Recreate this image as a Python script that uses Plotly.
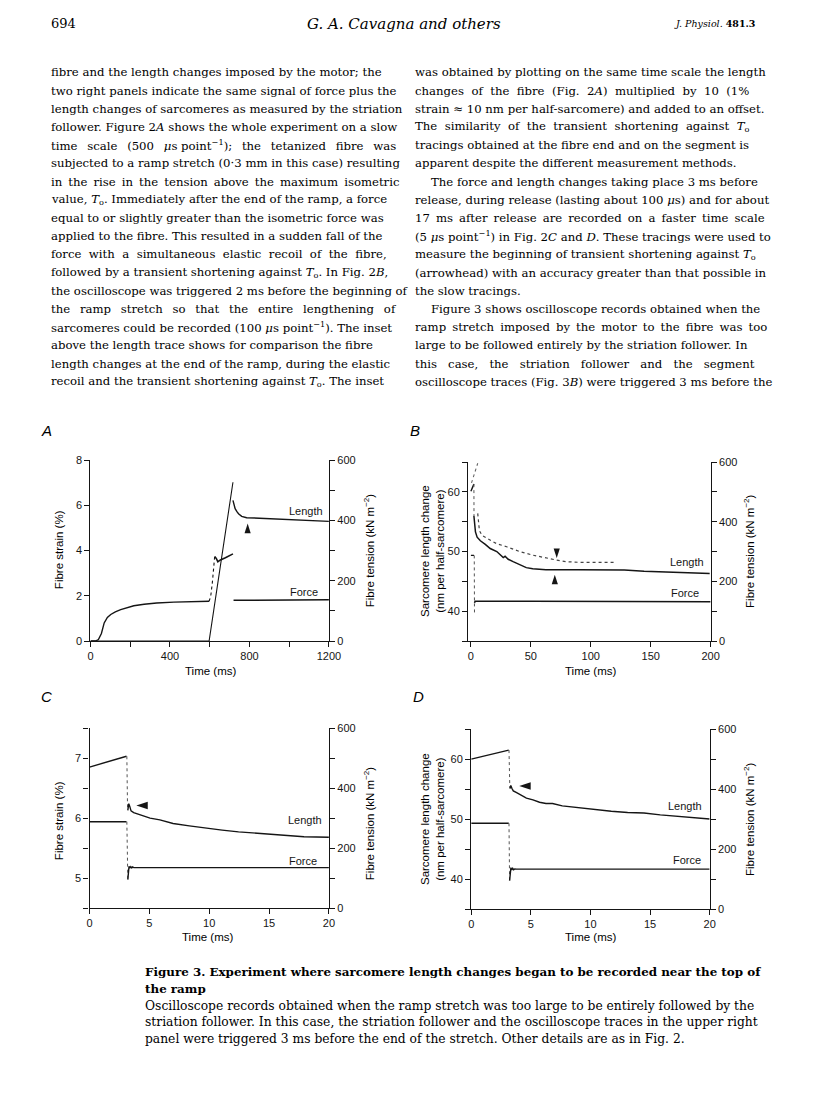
import plotly.graph_objects as go

# The page body keeps the browser's default 8 px margin, so the figure is
# sized to fill the 816x1110 window exactly and all positions are offset.
WIN_W, WIN_H, OFF = 816, 1110, 8
FIG_W, FIG_H = WIN_W - 2 * OFF, WIN_H - 2 * OFF

# ---------------- DATA ----------------
# Panel A: time (ms); length = fibre strain (%); force = fibre tension (kN m^-2)
A_len_pre_t = [0, 597, 717]
A_len_pre_y = [0.0, 0.0, 7.02]
A_len_post_t = [717, 722, 728, 737, 745, 761, 786, 850, 910, 1000, 1075, 1200]
A_len_post_y = [6.22, 6.0, 5.85, 5.72, 5.63, 5.51, 5.45, 5.43, 5.41, 5.38, 5.34, 5.29]
A_force_pre_t = [0, 25, 40, 55, 69, 85, 102, 125, 152, 185, 218, 270, 333, 420, 498, 597]
A_force_pre_k = [0, 0, 5, 25, 60, 78, 88, 97, 104, 111, 117, 122, 126, 129, 130, 132]
A_force_ramp_dot_t = [597, 605, 613, 620, 625]
A_force_ramp_dot_k = [132, 148, 192, 236, 280]
A_force_ramp_t = [625, 633, 641, 654, 679, 717]
A_force_ramp_k = [280, 274, 263, 269, 276, 289]
A_force_post_t = [720, 800, 1000, 1200]
A_force_post_k = [135, 135, 136, 137]

# Panel B: time (ms); length = sarcomere length change (nm per half-sarcomere)
B_len_pre_t = [0.0, 2.5]
B_len_pre_y = [60.1, 61.3]
B_len_drop_t = [2.5, 2.6]
B_len_drop_y = [61.3, 56.0]
B_len_t = [2.5, 3.0, 3.8, 5.2, 7.9, 12.0, 16.1, 21.6, 25.7, 27.0, 28.5, 31.1, 35.2,
           40.7, 46.2, 51.6, 62.6, 89.9, 117, 128, 144.5, 171.9, 199.2]
B_len_y = [56.0, 54.6, 53.3, 52.4, 51.8, 51.2, 50.5, 50.0, 49.3, 49.0, 49.2, 48.7, 48.3,
           47.8, 47.3, 47.1, 46.96, 46.96, 46.9, 46.9, 46.7, 46.5, 46.3]
B_fib_pre_t = [0.5, 5.7]
B_fib_pre_y = [61.5, 64.8]
B_fib_t = [5.7, 6.3, 7.1, 9.3, 13.4, 21.6, 29.8, 40.7, 51.6, 62.6, 70.8, 79.0, 89.9, 103.6, 119.4]
B_fib_y = [56.4, 55.2, 53.5, 52.7, 52.2, 51.3, 50.8, 50.0, 49.4, 48.9, 48.6, 48.3, 48.2, 48.2, 48.2]
B_force_pre_t = [0.0, 2.6]
B_force_pre_k = [287, 287]
B_force_drop_t = [2.8, 3.0]
B_force_drop_k = [287, 92]
B_force_t = [3.0, 3.5, 50, 100, 150, 200]
B_force_k = [128, 133, 133, 132, 132, 132]

# Panel C: time (ms); fibre strain (%); tension (kN m^-2)
C_len_pre_t = [0, 0.5, 1.0, 1.5, 2.0, 2.5, 3.09]
C_len_pre_y = [6.85, 6.88, 6.91, 6.94, 6.97, 6.99, 7.03]
C_len_drop_t = [3.12, 3.18]
C_len_drop_y = [7.03, 6.13]
C_len_post_t = [3.20, 3.28, 3.37, 3.47, 3.69, 4.24, 5.06, 5.88, 6.98, 8.34, 9.71, 11.08,
                12.45, 13.82, 15.18, 16.55, 17.92, 20.0]
C_len_post_y = [6.13, 6.24, 6.19, 6.12, 6.09, 6.05, 6.00, 5.97, 5.91, 5.87, 5.83, 5.80,
                5.77, 5.75, 5.74, 5.71, 5.69, 5.68]
C_force_pre_t = [0, 3.09]
C_force_pre_k = [288, 288]
C_force_drop_t = [3.12, 3.20]
C_force_drop_k = [288, 95]
C_force_post_t = [3.20, 3.25, 3.30, 3.37, 3.45, 3.53, 3.60, 3.70, 4.0, 20.0]
C_force_post_k = [95, 120, 139, 133, 138, 134, 137, 135, 135, 135]

# Panel D: time (ms); sarcomere length change (nm per half-sarcomere); tension
D_len_pre_t = [0, 1.0, 2.0, 3.15]
D_len_pre_y = [60.0, 60.5, 61.0, 61.5]
D_len_drop_t = [3.17, 3.24]
D_len_drop_y = [61.5, 55.1]
D_len_post_t = [3.26, 3.32, 3.42, 3.53, 3.81, 4.08, 4.63, 5.18, 5.73, 6.27, 6.82, 7.64,
                9.01, 10.38, 11.75, 13.12, 14.49, 15.86, 17.23, 18.6, 20.0]
D_len_post_y = [55.1, 55.6, 55.1, 54.7, 54.4, 54.1, 53.5, 53.2, 52.8, 52.6, 52.6, 52.2,
                51.9, 51.5, 51.3, 51.1, 51.0, 50.7, 50.5, 50.2, 50.0]
D_force_pre_t = [0, 3.15]
D_force_pre_k = [286, 286]
D_force_drop_t = [3.17, 3.22]
D_force_drop_k = [286, 95]
D_force_post_t = [3.22, 3.28, 3.33, 3.40, 3.48, 3.56, 3.65, 3.80, 4.2, 20.0]
D_force_post_k = [95, 125, 138, 131, 136, 131, 134, 133, 133, 133]

# arrowheads (time, length-axis value, direction)
A_arrow = (791, 5.19, "up")
B_arrows = [(71.6, 48.9, "down"), (70.0, 46.1, "up")]
C_arrow = (3.91, 6.21, "left")
D_arrow = (4.03, 55.5, "left")

# trace labels (text, time, length-axis value)
A_labels = [("Length", 1086, 5.77), ("Force", 1077, 2.19)]
B_labels = [("Length", 180, 48.3), ("Force", 179, 43.0)]
C_labels = [("Length", 18.0, 5.96), ("Force", 17.8, 5.29)]
D_labels = [("Length", 17.9, 52.2), ("Force", 18.1, 43.1)]

# tick values (labelled) and unlabelled minor tick positions
A_xticks = [0, 400, 800, 1200]
A_xminor = [200, 600, 1000]
A_yticks = [0, 2, 4, 6, 8]
B_xticks = [0, 50, 100, 150, 200]
SARC_yticks = [40, 50, 60]
SARC_yminor = [35, 45, 55, 65]
CD_xticks = [0, 5, 10, 15, 20]
C_yticks = [5, 6, 7]
C_yminor = [4.5, 5.5, 6.5, 7.5]
TENS_ticks = [0, 200, 400, 600]
TENS_minor = [100, 300, 500]

# page text
BODY_LEFT = [
    "fibre and the length changes imposed by the motor; the",
    "two right panels indicate the same signal of force plus the",
    "length changes of sarcomeres as measured by the striation",
    "follower. Figure 2<i>A</i> shows the whole experiment on a slow",
    "time scale (500 <i>μ</i>s\u00a0point<sup>−1</sup>); the tetanized fibre was",
    "subjected to a ramp stretch (0·3 mm in this case) resulting",
    "in the rise in the tension above the maximum isometric",
    "value, <i>T</i><sub>o</sub>. Immediately after the end of the ramp, a force",
    "equal to or slightly greater than the isometric force was",
    "applied to the fibre. This resulted in a sudden fall of the",
    "force with a simultaneous elastic recoil of the fibre,",
    "followed by a transient shortening against <i>T</i><sub>o</sub>. In Fig. 2<i>B</i>,",
    "the oscilloscope was triggered 2 ms before the beginning of",
    "the ramp stretch so that the entire lengthening of",
    "sarcomeres could be recorded (100 <i>μ</i>s\u00a0point<sup>−1</sup>). The inset",
    "above the length trace shows for comparison the fibre",
    "length changes at the end of the ramp, during the elastic",
    "recoil and the transient shortening against <i>T</i><sub>o</sub>. The inset",
]
BODY_RIGHT = [
    "was obtained by plotting on the same time scale the length",
    "changes of the fibre (Fig. 2<i>A</i>) multiplied by 10 (1%",
    "strain ≈ 10 nm per half-sarcomere) and added to an offset.",
    "The similarity of the transient shortening against <i>T</i><sub>o</sub>",
    "tracings obtained at the fibre end and on the segment is",
    "apparent despite the different measurement methods.",
    "The force and length changes taking place 3 ms before",
    "release, during release (lasting about 100 <i>μ</i>s) and for about",
    "17 ms after release are recorded on a faster time scale",
    "(5 <i>μ</i>s\u00a0point<sup>−1</sup>) in Fig. 2<i>C</i> and <i>D</i>. These tracings were used to",
    "measure the beginning of transient shortening against <i>T</i><sub>o</sub>",
    "(arrowhead) with an accuracy greater than that possible in",
    "the slow tracings.",
    "Figure 3 shows oscilloscope records obtained when the",
    "ramp stretch imposed by the motor to the fibre was too",
    "large to be followed entirely by the striation follower. In",
    "this case, the striation follower and the segment",
    "oscilloscope traces (Fig. 3<i>B</i>) were triggered 3 ms before the",
]
CAPTION = [
    "<b>Figure 3. Experiment where sarcomere length changes began to be recorded near the top of</b>",
    "<b>the ramp</b>",
    "Oscilloscope records obtained when the ramp stretch was too large to be entirely followed by the",
    "striation follower. In this case, the striation follower and the oscilloscope traces in the upper right",
    "panel were triggered 3 ms before the end of the stretch. Other details are as in Fig. 2.",
]

# ---------------- STYLE / LAYOUT ----------------
INK = "#151515"
TXT = "#000000"
SANS = "Liberation Sans, Arial, sans-serif"
SERIF = "DejaVu Serif, serif"

# word-gap widening per line (imitates the justified setting of the page)
GAP_LEFT = [1, 1, 1, 1, 2.5, 1, 1.5, 1, 1, 1, 2, 1, 1, 2.5, 1, 1, 1, 1]
GAP_RIGHT = [1, 2, 1, 2, 1, 1, 1, 1, 1.5, 1, 1, 1, 1, 1, 1.5, 1, 3, 1]
RIGHT_INDENTED = [6, 13]
GAP_STR = {1: " ", 1.5: "\u00a0\u2009", 2: "\u00a0\u00a0", 2.5: "\u00a0\u00a0\u2009",
           3: "\u00a0\u00a0\u00a0"}


def spread(s, g):
    return s.replace(" ", GAP_STR[g])


def px_x(p):
    return (p - OFF) / FIG_W


def px_y(p):
    return 1 - (p - OFF) / FIG_H


fig = go.Figure()


def line(t, v, xa, ya, width=1.4, dash="solid", color=INK):
    fig.add_trace(go.Scatter(x=t, y=v, xaxis=xa, yaxis=ya, mode="lines",
                             line=dict(color=color, width=width, dash=dash),
                             showlegend=False, hoverinfo="skip"))


ANG = {"up": 0, "down": 180, "left": 270, "right": 90}


def arrow(a, xa, ya, size):
    fig.add_trace(go.Scatter(x=[a[0]], y=[a[1]], xaxis=xa, yaxis=ya, mode="markers",
                             marker=dict(symbol="arrow", angle=ANG[a[2]], size=size,
                                         color=INK, line=dict(width=0)),
                             showlegend=False, hoverinfo="skip"))


# Panel A (x, y left, y2 right)
line(A_len_pre_t, A_len_pre_y, "x", "y", width=1.1)
line(A_len_post_t, A_len_post_y, "x", "y")
line(A_force_pre_t, A_force_pre_k, "x", "y2")
line(A_force_ramp_dot_t, A_force_ramp_dot_k, "x", "y2", width=1.1, dash="dot")
line(A_force_ramp_t, A_force_ramp_k, "x", "y2", width=1.6)
line(A_force_post_t, A_force_post_k, "x", "y2")
arrow(A_arrow, "x", "y", 10)

# Panel B (x2, y3 left, y4 right)
line(B_len_pre_t, B_len_pre_y, "x2", "y3")
line(B_len_drop_t, B_len_drop_y, "x2", "y3", width=1.0, dash="dot", color="#555")
line(B_len_t, B_len_y, "x2", "y3", width=1.5)
line(B_fib_pre_t, B_fib_pre_y, "x2", "y3", width=1.1, dash="dot", color="#666")
line(B_fib_t, B_fib_y, "x2", "y3", width=1.2, dash="dot", color="#444")
line(B_force_pre_t, B_force_pre_k, "x2", "y4")
line(B_force_drop_t, B_force_drop_k, "x2", "y4", width=1.0, dash="dot", color="#555")
line(B_force_t, B_force_k, "x2", "y4", width=1.5)
for a in B_arrows:
    arrow(a, "x2", "y3", 10)

# Panel C (x3, y5 left, y6 right)
line(C_len_pre_t, C_len_pre_y, "x3", "y5")
line(C_len_drop_t, C_len_drop_y, "x3", "y5", width=1.0, dash="dot", color="#555")
line(C_len_post_t, C_len_post_y, "x3", "y5")
line(C_force_pre_t, C_force_pre_k, "x3", "y6")
line(C_force_drop_t, C_force_drop_k, "x3", "y6", width=1.0, dash="dot", color="#555")
line(C_force_post_t, C_force_post_k, "x3", "y6")
arrow(C_arrow, "x3", "y5", 12)

# Panel D (x4, y7 left, y8 right)
line(D_len_pre_t, D_len_pre_y, "x4", "y7")
line(D_len_drop_t, D_len_drop_y, "x4", "y7", width=1.0, dash="dot", color="#555")
line(D_len_post_t, D_len_post_y, "x4", "y7")
line(D_force_pre_t, D_force_pre_k, "x4", "y8")
line(D_force_drop_t, D_force_drop_k, "x4", "y8", width=1.0, dash="dot", color="#555")
line(D_force_post_t, D_force_post_k, "x4", "y8")
arrow(D_arrow, "x4", "y7", 12)

AX = dict(showline=True, linecolor=INK, linewidth=1.4, ticks="outside", ticklen=5,
          tickwidth=1.3, tickcolor=INK, showgrid=False, zeroline=False, mirror=False,
          tickmode="array",
          tickfont=dict(family=SANS, size=11, color=INK), fixedrange=True)


def minor(vals):
    return dict(tickmode="array", tickvals=vals, ticks="outside", ticklen=5,
                tickwidth=1.3, tickcolor=INK, showgrid=False)


# panel boxes in window pixels: (left, right, top, bottom)
PANELS = {
    "A": (89, 332, 459, 642),
    "B": (474, 721, 461, 642),
    "C": (88, 332, 730, 912),
    "D": (477, 720, 731, 913),
}


def dom(box):
    l, r, t, b = box
    return [px_x(l), px_x(r)], [px_y(b), px_y(t)]


xdA, ydA = dom(PANELS["A"])
xdB, ydB = dom(PANELS["B"])
xdC, ydC = dom(PANELS["C"])
xdD, ydD = dom(PANELS["D"])


def tens_axis(over, anchor):
    return dict(AX, overlaying=over, side="right", anchor=anchor, range=[0, 600],
                tickvals=TENS_ticks, minor=minor(TENS_minor))


fig.update_layout(
    width=FIG_W, height=FIG_H, autosize=False,
    margin=dict(l=0, r=0, t=0, b=0),
    paper_bgcolor="white", plot_bgcolor="rgba(0,0,0,0)",
    showlegend=False,
    xaxis=dict(AX, domain=xdA, anchor="y", range=[0, 1200], tickvals=A_xticks,
               minor=minor(A_xminor)),
    yaxis=dict(AX, domain=ydA, anchor="x", range=[0, 8], tickvals=A_yticks),
    yaxis2=tens_axis("y", "x"),
    xaxis2=dict(AX, domain=xdB, anchor="y3", range=[-2.2, 200], tickvals=B_xticks),
    yaxis3=dict(AX, domain=ydB, anchor="x2", range=[35, 65], tickvals=SARC_yticks,
                minor=minor(SARC_yminor)),
    yaxis4=tens_axis("y3", "x2"),
    xaxis3=dict(AX, domain=xdC, anchor="y5", range=[0, 20], tickvals=CD_xticks),
    yaxis5=dict(AX, domain=ydC, anchor="x3", range=[4.5, 7.5], tickvals=C_yticks,
                minor=minor(C_yminor)),
    yaxis6=tens_axis("y5", "x3"),
    xaxis4=dict(AX, domain=xdD, anchor="y7", range=[0, 20], tickvals=CD_xticks),
    yaxis7=dict(AX, domain=ydD, anchor="x4", range=[35, 65], tickvals=SARC_yticks,
                minor=minor(SARC_yminor)),
    yaxis8=tens_axis("y7", "x4"),
)

ann = []


def ptext(text, x, y, size, family=SERIF, xanchor="left", angle=0, color=TXT):
    ann.append(dict(text=text, x=px_x(x), y=px_y(y), xref="paper", yref="paper",
                    xanchor=xanchor, yanchor="middle", showarrow=False, textangle=angle,
                    font=dict(family=family, size=size, color=color)))


# header
ptext("694", 47, 18, 13)
ptext("<i>G. A. Cavagna and others</i>", 408, 18, 15, xanchor="center")
ptext("<i>J. Physiol.</i> <b>481.3</b>", 768, 18, 9.5, xanchor="right")

# body text columns
LINE_H = 18.4
BODY_SIZE = 11.7
for i, s in enumerate(BODY_LEFT):
    ptext(spread(s, GAP_LEFT[i]), 47, 67 + i * LINE_H, BODY_SIZE)
for i, s in enumerate(BODY_RIGHT):
    x0 = 434 if i in RIGHT_INDENTED else 418
    ptext(spread(s, GAP_RIGHT[i]), x0, 67 + i * LINE_H, BODY_SIZE)

# caption
CAP_Y = [977, 993.5, 1011, 1027.5, 1044]
CAP_SIZE = [11.9, 11.9, 12.3, 12.3, 12.3]
for s, y, fs in zip(CAPTION, CAP_Y, CAP_SIZE):
    ptext(s, 143, y, fs)

# panel letters
for letter, (x, y) in {"A": (44, 429), "B": (420, 429), "C": (44, 698), "D": (423, 698)}.items():
    ptext("<i>" + letter + "</i>", x, y, 15, family=SANS, xanchor="center")

# axis titles
TENS = "Fibre tension (kN m<sup>−2</sup>)"
SARC = "Sarcomere length change<br>(nm per half-sarcomere)"
ptext("Time (ms)", 211, 672, 11.5, family=SANS, xanchor="center")
ptext("Time (ms)", 599, 672, 11.5, family=SANS, xanchor="center")
ptext("Time (ms)", 208, 941, 11.5, family=SANS, xanchor="center")
ptext("Time (ms)", 599, 941, 11.5, family=SANS, xanchor="center")
ptext("Fibre strain (%)", 57, 550, 11.5, family=SANS, xanchor="center", angle=-90)
ptext(TENS, 373, 550, 11.5, family=SANS, xanchor="center", angle=-90)
ptext(SARC, 437, 551, 11.5, family=SANS, xanchor="center", angle=-90)
ptext(TENS, 760, 551, 11.5, family=SANS, xanchor="center", angle=-90)
ptext("Fibre strain (%)", 57, 824, 11.5, family=SANS, xanchor="center", angle=-90)
ptext(TENS, 373, 826, 11.5, family=SANS, xanchor="center", angle=-90)
ptext(SARC, 437, 822, 11.5, family=SANS, xanchor="center", angle=-90)
ptext(TENS, 760, 822, 11.5, family=SANS, xanchor="center", angle=-90)

# trace labels inside panels
for labs, xr, yr in [(A_labels, "x", "y"), (B_labels, "x2", "y3"),
                     (C_labels, "x3", "y5"), (D_labels, "x4", "y7")]:
    for txt, tx, ty in labs:
        ann.append(dict(text=txt, x=tx, y=ty, xref=xr, yref=yr, showarrow=False,
                        xanchor="center", yanchor="middle",
                        font=dict(family=SANS, size=11, color=INK)))

fig.update_layout(annotations=ann)
fig.write_html("out.html")
